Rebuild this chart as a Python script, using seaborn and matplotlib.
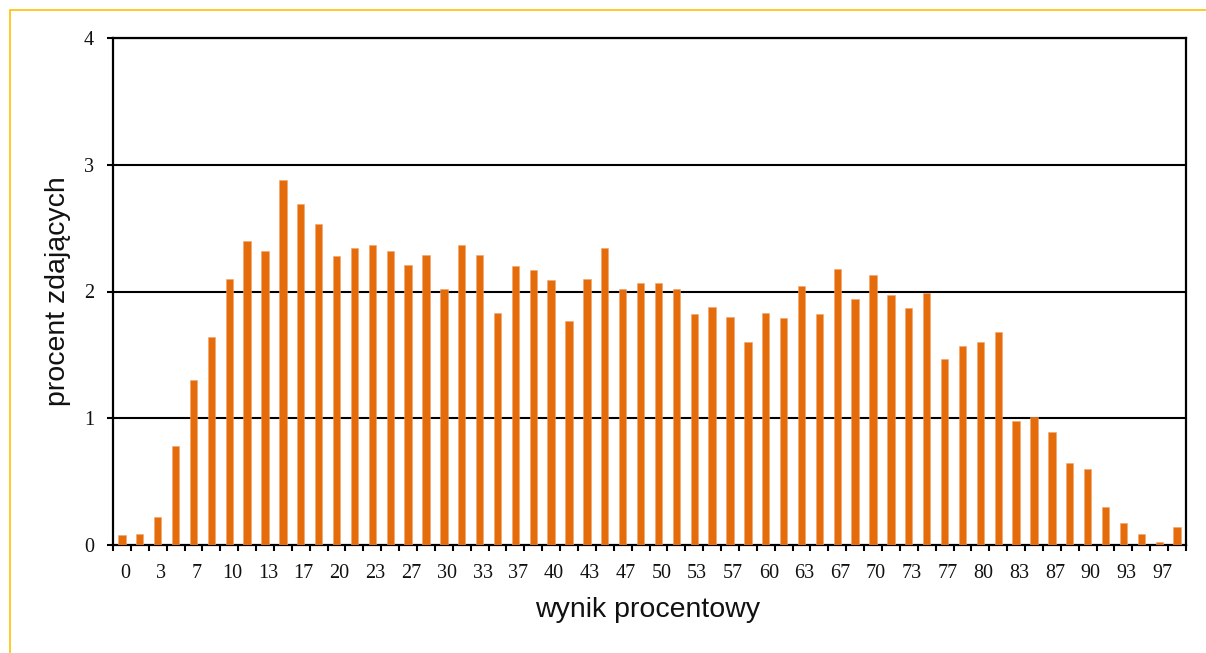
import matplotlib
matplotlib.use("Agg")
import matplotlib.pyplot as plt
import matplotlib.patches as mpatches
import seaborn as sns
import pandas as pd

categories = ["0", "2", "3", "5", "7", "8", "10", "12", "13", "15",
              "17", "18", "20", "22", "23", "25", "27", "28", "30", "32",
              "33", "35", "37", "38", "40", "42", "43", "45", "47", "48",
              "50", "52", "53", "55", "57", "58", "60", "62", "63", "65",
              "67", "68", "70", "72", "73", "75", "77", "78", "80", "82",
              "83", "85", "87", "88", "90", "92", "93", "95", "97", "98"]
values = [0.08, 0.09, 0.22, 0.78, 1.30, 1.64, 2.10, 2.40, 2.32, 2.88,
          2.69, 2.53, 2.28, 2.34, 2.37, 2.32, 2.21, 2.29, 2.02, 2.37,
          2.29, 1.83, 2.20, 2.17, 2.09, 1.77, 2.10, 2.34, 2.02, 2.07,
          2.07, 2.02, 1.82, 1.88, 1.80, 1.60, 1.83, 1.79, 2.04, 1.82,
          2.18, 1.94, 2.13, 1.97, 1.87, 1.99, 1.47, 1.57, 1.60, 1.68,
          0.98, 1.01, 0.89, 0.65, 0.60, 0.30, 0.17, 0.09, 0.02, 0.14]
y_ticks = [0, 1, 2, 3, 4]

df = pd.DataFrame({"wynik": categories, "procent": values})

sns.set_theme(style="white")
plt.rcParams["font.family"] = ["Liberation Serif", "DejaVu Serif"]

W, H = 1206, 653
fig = plt.figure(figsize=(W / 100, H / 100), dpi=100)
ax = fig.add_axes([113 / W, 1 - 545 / H, (1186 - 113) / W, (545 - 38) / H])

sns.barplot(data=df, x="wynik", y="procent", order=categories,
            color="#E46C0A", saturation=1, width=0.41, ax=ax,
            edgecolor="#F4A46A", linewidth=0.4, zorder=3)

ax.set_ylim(0, 4)
ax.set_xlim(-0.5, len(categories) - 0.5)
ax.set_yticks(y_ticks)
ax.set_yticklabels([str(t) for t in y_ticks])
for t in y_ticks[1:]:
    ax.axhline(t, color="black", lw=1.5, zorder=2)

# x labels every other category, tick marks at category boundaries
major = list(range(0, len(categories), 2))
ax.set_xticks(major)
ax.set_xticklabels([categories[i] for i in major])
ax.set_xticks([i - 0.5 for i in range(len(categories) + 1)], minor=True)
ax.tick_params(axis="x", which="major", length=0, pad=14, labelsize=14.5,
               labelcolor="#111111")
ax.tick_params(axis="x", which="minor", length=4.5, width=1.5,
               direction="out", color="black", bottom=True)
ax.tick_params(axis="y", which="major", length=4.5, width=1.5,
               direction="out", color="black", left=True, pad=9,
               labelsize=14.5, labelcolor="#111111")

for lab in ax.get_xticklabels():
    lab.set_transform(lab.get_transform() +
                      matplotlib.transforms.ScaledTranslation(3 / 100, 0, fig.dpi_scale_trans))

for s in ax.spines.values():
    s.set_color("black")
    s.set_linewidth(1.6)
    s.set_visible(True)

ax.set_xlabel("")
ax.set_ylabel("")
fig.text(648 / W, 1 - 610 / H, "wynik procentowy", ha="center", va="center",
         fontsize=20.5, family=["Liberation Sans", "DejaVu Sans"], color="#111111")
fig.text(58 / W, 1 - 291.5 / H, "procent zdających", ha="center", va="center",
         rotation=90, fontsize=20.5, family=["Liberation Sans", "DejaVu Sans"],
         color="#111111")

# gold outer frame (extends beyond right/bottom edges)
frame = mpatches.Rectangle((9.5 / W, -0.1), 1.2, 1 - 9.5 / H + 0.1,
                           transform=fig.transFigure, fill=False,
                           edgecolor="#FFC000", lw=1.2)
fig.patches.append(frame)

fig.savefig("out.png", dpi=100)
